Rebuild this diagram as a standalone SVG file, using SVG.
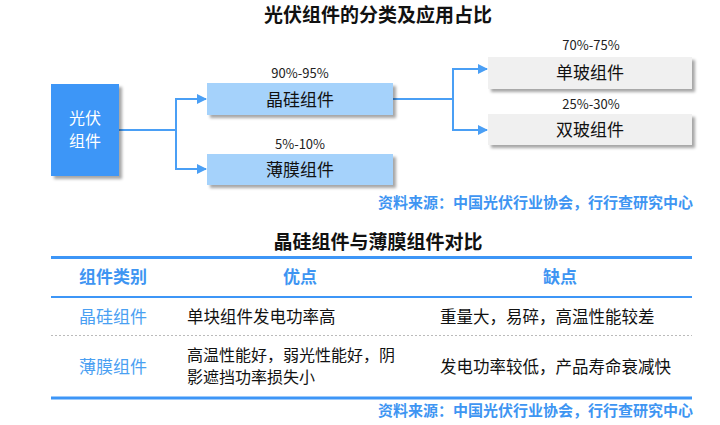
<svg xmlns="http://www.w3.org/2000/svg" width="720" height="425" viewBox="0 0 720 425">
<style>
text{font-family:"Noto Sans CJK SC","Noto Sans",sans-serif;}
.title{font-size:19px;font-weight:bold;fill:#111;text-anchor:middle;}
.lbl{font-size:17px;fill:#111;text-anchor:middle;}
.wlbl{font-size:16px;fill:#fff;text-anchor:middle;}
.pct{font-size:13px;fill:#222;text-anchor:middle;}
.src{font-size:15px;font-weight:bold;fill:#3e95f2;text-anchor:end;}
.th{font-size:17px;font-weight:bold;fill:#3e95f2;text-anchor:middle;}
.cat{font-size:17px;fill:#4aa0f2;text-anchor:middle;}
.td{font-size:16.5px;fill:#111;}
.td2{font-size:16px;fill:#111;}
.conn{fill:none;stroke:#4a9ff5;stroke-width:2;}
</style>
<defs>
<filter id="sh" x="-10%" y="-10%" width="130%" height="140%">
<feDropShadow dx="3" dy="3" stdDeviation="1.8" flood-color="#000" flood-opacity="0.35"/>
</filter>
<marker id="arr" markerWidth="10" markerHeight="10" refX="9" refY="5" orient="auto" markerUnits="userSpaceOnUse">
<path d="M0,0 L10,5 L0,10 Z" fill="#4a9ff5"/>
</marker>
</defs>
<rect width="720" height="425" fill="#fff"/>
<text class="title" x="378" y="22">光伏组件的分类及应用占比</text>
<g id="connectors">
<path class="conn" d="M119,130 H176 V99 H206" marker-end="url(#arr)"/>
<path class="conn" d="M176,130 V169 H206" marker-end="url(#arr)"/>
<path class="conn" d="M393,99 H453 V69 H487" marker-end="url(#arr)"/>
<path class="conn" d="M453,99 V130 H487" marker-end="url(#arr)"/>
</g>
<g id="node-main">
<rect x="51" y="84" width="68" height="92" fill="#3d96f7" filter="url(#sh)"/>
<text class="wlbl" x="85" y="124">光伏</text>
<text class="wlbl" x="85" y="147">组件</text>
</g>
<g id="node-jinggui">
<text class="pct" x="300" y="78">90%-95%</text>
<rect x="207" y="83" width="186" height="32" fill="#a5d2fb" filter="url(#sh)"/>
<text class="lbl" x="300" y="106">晶硅组件</text>
</g>
<g id="node-bomo">
<text class="pct" x="300" y="149">5%-10%</text>
<rect x="207" y="154" width="186" height="31" fill="#a5d2fb" filter="url(#sh)"/>
<text class="lbl" x="300" y="176">薄膜组件</text>
</g>
<g id="node-danbo">
<text class="pct" x="591" y="50">70%-75%</text>
<rect x="488" y="57" width="204" height="32" fill="#f0f0f0" filter="url(#sh)"/>
<text class="lbl" x="590" y="79">单玻组件</text>
</g>
<g id="node-shuangbo">
<text class="pct" x="591" y="109">25%-30%</text>
<rect x="488" y="114" width="204" height="31" fill="#f0f0f0" filter="url(#sh)"/>
<text class="lbl" x="590" y="136">双玻组件</text>
</g>
<text class="src" x="693" y="208">资料来源：中国光伏行业协会，行行查研究中心</text>
<text class="title" x="378" y="249">晶硅组件与薄膜组件对比</text>
<g id="table">
<line x1="51" y1="257.5" x2="692" y2="257.5" stroke="#3d96f7" stroke-width="3"/>
<text class="th" x="113" y="283">组件类别</text>
<text class="th" x="300" y="283">优点</text>
<text class="th" x="560" y="283">缺点</text>
<line x1="51" y1="297" x2="692" y2="297" stroke="#3d96f7" stroke-width="2"/>
<text class="cat" x="113" y="323">晶硅组件</text>
<text class="td" x="187" y="323">单块组件发电功率高</text>
<text class="td" x="440" y="323">重量大，易碎，高温性能较差</text>
<line x1="51" y1="335.5" x2="692" y2="335.5" stroke="#bbb" stroke-width="1" stroke-dasharray="2,2"/>
<text class="cat" x="113" y="373">薄膜组件</text>
<text class="td2" x="187" y="361">高温性能好，弱光性能好，阴</text>
<text class="td2" x="187" y="383">影遮挡功率损失小</text>
<text class="td" x="440" y="373">发电功率较低，产品寿命衰减快</text>
<line x1="51" y1="398" x2="692" y2="398" stroke="#3d96f7" stroke-width="3"/>
</g>
<text class="src" x="693" y="416">资料来源：中国光伏行业协会，行行查研究中心</text>
</svg>
